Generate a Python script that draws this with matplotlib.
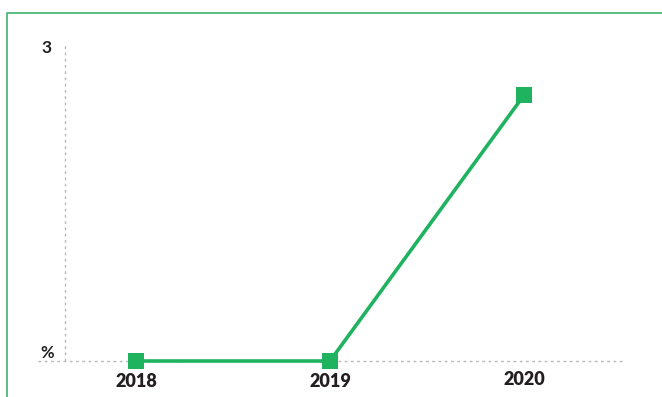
import matplotlib
matplotlib.use("Agg")
import matplotlib.pyplot as plt
from matplotlib.lines import Line2D

years = ["2018", "2019", "2020"]
values = [0.0, 0.0, 2.5]
y_tick_top = 3
unit_label = "%"

green = "#1fb25f"
frame_green = "#4cb97a"
text_color = "#231f20"
grid_grey = "#b8b8b8"

W, H = 662, 397
fig = plt.figure(figsize=(W / 100, H / 100), dpi=100)
plt.rcParams["font.family"] = ["Lato", "DejaVu Sans"]

# axes spans px 38..622 horizontally, 42..361 vertically
left, right, top, bottom = 38, 622, 42, 361
ax = fig.add_axes([left / W, 1 - bottom / H, (right - left) / W, (bottom - top) / H])
x = list(range(len(years)))
ax.set_xlim(-0.505, 2.505)
ax.set_ylim(0, y_tick_top)
for s in ax.spines.values():
    s.set_visible(False)
ax.set_xticks([])
ax.set_yticks([])
ax.patch.set_alpha(0)

# dotted baseline and dashed value axis
ax.axhline(0, color=grid_grey, lw=1, ls=(0, (2, 2.5)), zorder=1, clip_on=False)
ax.axvline(-0.366, color=grid_grey, lw=1, ls=(0, (2, 2.5)), zorder=1, clip_on=False)

ax.plot(x, values, color=green, lw=2.6, marker="s", markersize=11.5,
        markeredgewidth=0, zorder=3, clip_on=False)

# year labels under the points
label_drop = [-14.5, -14.5, -13.0]
for xi, yr, dy in zip(x, years, label_drop):
    ax.annotate(yr, (xi, 0), xytext=(0, dy), textcoords="offset points",
                ha="center", va="center", fontsize=13, fontweight="heavy",
                color=text_color)

ax.annotate(str(y_tick_top), (-0.366, y_tick_top), xytext=(-13, -4),
            textcoords="offset points", ha="center", va="center",
            fontsize=12.5, color=text_color, fontweight="bold")
ax.annotate(unit_label, (-0.366, 0), xytext=(-13, 6),
            textcoords="offset points", ha="center", va="center",
            fontsize=12, color=text_color, fontweight="bold")

# outer frame: left and top edges
fig.add_artist(Line2D([7 / W, 7 / W, 1.0], [0.0, 1 - 12.5 / H, 1 - 12.5 / H],
                      transform=fig.transFigure, color=frame_green, lw=1.3))

fig.savefig("out.png", dpi=100)
